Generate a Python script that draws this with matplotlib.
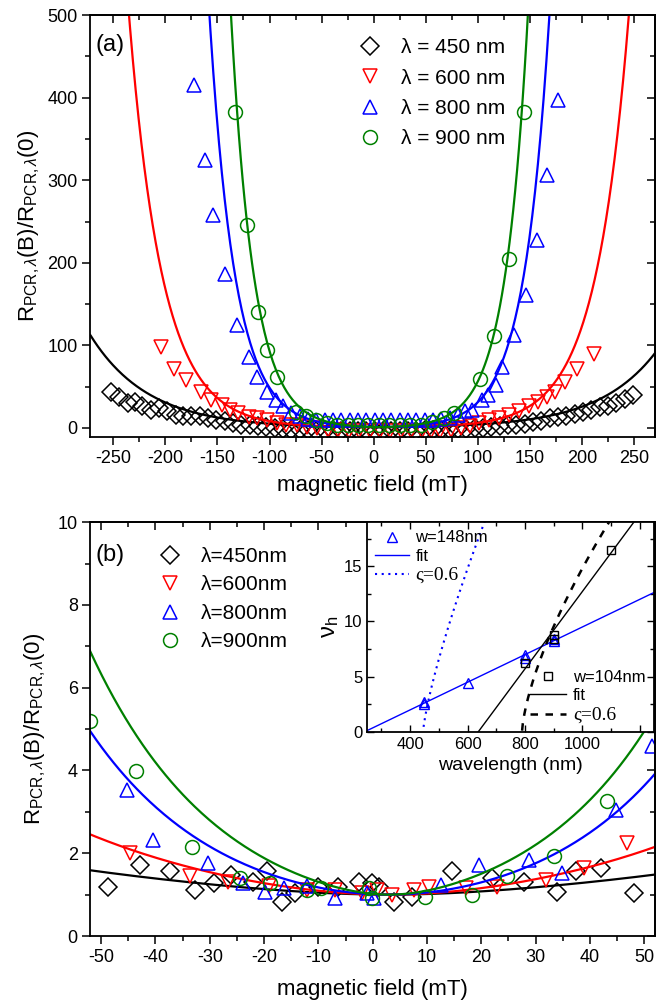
import numpy as np
import matplotlib
matplotlib.use('Agg')
import matplotlib.pyplot as plt
from matplotlib.ticker import MultipleLocator, FixedLocator, FixedFormatter
from matplotlib.lines import Line2D

plt.rcParams['font.family'] = ['Liberation Sans', 'DejaVu Sans']
plt.rcParams['mathtext.fontset'] = 'custom'
plt.rcParams['mathtext.rm'] = 'Liberation Sans'
plt.rcParams['mathtext.it'] = 'Liberation Sans:italic'
plt.rcParams['mathtext.bf'] = 'Liberation Sans:bold'
plt.rcParams['axes.linewidth'] = 1.3
plt.rcParams['axes.unicode_minus'] = False

wl_labels_a = ['λ = 450 nm', 'λ = 600 nm', 'λ = 800 nm', 'λ = 900 nm']
wl_labels_b = ['λ=450nm', 'λ=600nm', 'λ=800nm', 'λ=900nm']
colors = ['black', 'red', 'blue', 'green']
markers = ['D', 'v', '^', 'o']

# panel (a) data
bk_a_B = [-252, -244, -236, -229, -222, -214, -206, -198, -190, -183, -175, -167, -159, -151, -143, -135,
          -127, -119, -111, -103, -95, -87, -79, -71, -63, -55, -47, -39, -31, -23, -15, -7, 1, 9, 17, 25,
          33, 41, 49, 57, 65, 73, 81, 89, 97, 105, 113, 121, 129, 137, 145, 153, 161, 169, 177, 185, 193,
          201, 209, 217, 225, 233, 241, 249]
bk_a_R = [44, 38, 30, 31, 27, 22, 24, 20, 16, 14, 14, 15, 12, 10, 8, 6,
          4, 3, 2, 1, 0, -1, -2, -3, -3, -4, -4, -4, -4, -4, -4, -4, -4, -4, -4, -4,
          -4, -4, -3, -3, -2, -2, -1, -1, 0, 0, 1, 2, 3, 4, 5, 7, 9, 12, 13, 15, 17,
          19, 22, 25, 26, 30, 35, 40]
rd_a_B = [-204, -192, -180, -166, -156, -146, -138, -130, -120, -112, -102, -93, -84, -74, -64, -54, -44,
          -34, -24, -14, -4, 6, 16, 26, 36, 46, 55, 64, 74, 84, 92, 101, 111, 120, 130, 139, 149, 158,
          166, 174, 184, 195, 211]
rd_a_R = [98, 72, 58, 44, 34, 28, 22, 18, 13, 12, 10, 6, 4, 3, 1, 0, -2,
          -3, -4, -4, -4, -4, -4, -4, -4, -4, -4, -4, -2, 0, 2, 6, 10, 12, 16, 20, 26, 32,
          38, 44, 56, 72, 90]
bl_a_B = [-172, -162, -154, -143, -131, -120, -112, -102, -94, -87, -79, -71, -63, -55, -47, -39, -31,
          -23, -15, -7, 1, 9, 17, 25, 33, 41, 49, 57, 65, 73, 81, 88, 94, 104, 110, 117, 123, 135, 146,
          157, 166, 177]
bl_a_R = [415, 325, 258, 187, 125, 86, 62, 44, 34, 26, 18, 14, 11, 10, 10, 10, 10,
          10, 10, 10, 10, 10, 10, 10, 10, 10, 10, 10, 11, 12, 16, 20, 22, 34, 40, 52, 74, 113, 161,
          228, 306, 397]
gr_a_B = [-133, -122, -111, -102, -93, -75, -65, -55, -45, -35, -25, -15, -5, 5, 15, 25, 35, 45, 56, 67,
          77, 102, 115, 130, 144]
gr_a_R = [383, 246, 141, 94, 62, 19, 15, 10, 6, 4, 3.5, 3.5, 3.5, 3.5, 3.5, 3.5, 3.5, 4, 7, 12,
          18, 59, 111, 205, 383]

# fit parameters (a): R = exp(k*(sqrt((B-c)^2 + B0^2) - B0))
fit_a = [(0.018, 15, 5), (0.032, 51, 5), (0.0405, 10, 5.5), (0.0455, 6, 5.5)]

# panel (b) data
bk_b_B = [-48.7, -42.9, -37.3, -32.7, -29.3, -26, -22, -19.5, -16.7, -14.3, -10, -6.3, -2.6, -0.1, 1.1,
          3.9, 7.3, 14.6, 22, 27.9, 34, 37.4, 42, 48.2]
bk_b_R = [1.19, 1.72, 1.56, 1.11, 1.28, 1.48, 1.31, 1.56, 0.83, 1.03, 1.19, 1.19, 1.31, 1.28, 1.19,
          0.83, 0.95, 1.56, 1.4, 1.31, 1.07, 1.56, 1.64, 1.03]
rd_b_B = [-44.7, -33.6, -26.6, -19, -12, -7, -2, 0.8, 3.6, 7.6, 10.3, 17.1, 22.9, 31.9, 38.9, 46.9]
rd_b_R = [2.0, 1.44, 1.31, 1.2, 1.1, 1.12, 1.05, 1.1, 0.99, 1.11, 1.19, 1.15, 1.19, 1.36, 1.64, 2.24]
bl_b_B = [-45.3, -40.4, -30.3, -23.8, -19.8, -16.4, -12, -6.9, -1.1, 0.2, 12.5, 19.6, 28.8, 34.9, 44.8, 51.5]
bl_b_R = [3.53, 2.32, 1.76, 1.28, 1.07, 1.15, 1.2, 0.91, 1.03, 0.91, 1.23, 1.72, 1.84, 1.52, 3.05, 4.58]
gr_b_B = [-52, -43.5, -33.3, -24.4, -18.9, -12.1, -9.5, -0.7, -0.1, 9.7, 18.3, 24.8, 33.4, 43.2]
gr_b_R = [5.2, 3.98, 2.16, 1.40, 1.28, 1.11, 1.15, 1.15, 0.91, 0.95, 0.99, 1.45, 1.94, 3.25]

fit_b = [(0.012, 20, 3), (0.0233, 20, 3), (0.0415, 20, 3), (0.042, 10, 3)]

# inset data
tri_wl = [450, 450, 600, 800, 800, 900, 900]
tri_nu = [2.7, 2.55, 4.4, 7.0, 6.7, 8.2, 8.45]
sq_wl = [800, 900, 900, 1100]
sq_nu = [6.2, 8.8, 8.4, 16.5]
inset_xticks = [400, 600, 800, 1000, 1200]
inset_xticklabels = ['400', '600', '800', '1000', '']
blue_fit = (0.0125, 240)     # slope, zero crossing
black_fit = (0.035, 637)
blue_pow = (0.289, 445, 0.78)  # amplitude, onset, exponent
black_pow = (0.39, 790, 0.68)


def rfit(B, k, B0, c):
    return np.exp(k * (np.sqrt((B - c) ** 2 + B0 ** 2) - B0))


def style_axes(ax, xmaj, xmin, ymaj, ymin):
    ax.xaxis.set_major_locator(MultipleLocator(xmaj))
    ax.xaxis.set_minor_locator(MultipleLocator(xmin))
    ax.yaxis.set_major_locator(MultipleLocator(ymaj))
    ax.yaxis.set_minor_locator(MultipleLocator(ymin))
    ax.tick_params(which='major', direction='out', length=5.5, width=1.1, labelsize=13)
    ax.tick_params(which='minor', direction='out', length=3.5, width=1.1)
    top = ax.secondary_xaxis('top')
    top.xaxis.set_major_locator(MultipleLocator(xmaj))
    top.xaxis.set_minor_locator(MultipleLocator(xmin))
    top.tick_params(which='both', direction='in', labeltop=False, width=1.1)
    top.tick_params(which='major', length=5.5)
    top.tick_params(which='minor', length=3.5)
    right = ax.secondary_yaxis('right')
    right.yaxis.set_major_locator(MultipleLocator(ymaj))
    right.yaxis.set_minor_locator(MultipleLocator(ymin))
    right.tick_params(which='both', direction='in', labelright=False, width=1.1)
    right.tick_params(which='major', length=5.5)
    right.tick_params(which='minor', length=3.5)


ylab = r'R$_{\mathrm{PCR,}\lambda}$(B)/R$_{\mathrm{PCR,}\lambda}$(0)'

fig = plt.figure(figsize=(6.59, 10.07), dpi=100)
ax1 = fig.add_axes([0.137, 0.566, 0.857, 0.419])
ax2 = fig.add_axes([0.137, 0.0705, 0.857, 0.411])
ins = fig.add_axes([0.557, 0.2731, 0.4355, 0.2085])

# ---- (a)
data_a = [(bk_a_B, bk_a_R), (rd_a_B, rd_a_R), (bl_a_B, bl_a_R), (gr_a_B, gr_a_R)]
Ba = np.linspace(-272, 272, 600)
for (B, R), col, mk, lab, p in zip(data_a, colors, markers, wl_labels_a, fit_a):
    ms = 9 if mk == 'D' else 10
    ax1.plot(B, R, linestyle='none', marker=mk, ms=ms, mfc='none', mec=col, mew=1.1, label=lab)
    ax1.plot(Ba, rfit(Ba, *p), color=col, lw=1.6)
ax1.set_xlim(-272, 270)
ax1.set_ylim(-11, 500)
style_axes(ax1, 50, 25, 100, 50)
ax1.set_xlabel('magnetic field (mT)', fontsize=16, labelpad=6)
ax1.set_ylabel(ylab, fontsize=16, labelpad=4)
ax1.text(0.01, 0.915, '(a)', transform=ax1.transAxes, fontsize=17)
ax1.legend(loc='upper left', bbox_to_anchor=(0.44, 0.99), frameon=False, fontsize=15,
           handletextpad=0.9, labelspacing=0.55, handlelength=1.2)

# ---- (b)
data_b = [(bk_b_B, bk_b_R), (rd_b_B, rd_b_R), (bl_b_B, bl_b_R), (gr_b_B, gr_b_R)]
Bb = np.linspace(-53, 53, 400)
for (B, R), col, mk, lab, p in zip(data_b, colors, markers, wl_labels_b, fit_b):
    ms = 9 if mk == 'D' else 10
    ax2.plot(Bb, rfit(Bb, *p), color=col, lw=1.6)
    ax2.plot(B, R, linestyle='none', marker=mk, ms=ms, mfc='none', mec=col, mew=1.1, label=lab)
ax2.set_xlim(-52, 52)
ax2.set_ylim(0, 10)
style_axes(ax2, 10, 5, 2, 1)
ax2.set_xlabel('magnetic field (mT)', fontsize=16, labelpad=10)
ax2.set_ylabel(ylab, fontsize=16, labelpad=7)
ax2.text(0.01, 0.905, '(b)', transform=ax2.transAxes, fontsize=17)
ax2.legend(loc='upper left', bbox_to_anchor=(0.085, 0.985), frameon=False, fontsize=15,
           handletextpad=0.9, labelspacing=0.45, handlelength=1.2)

# ---- inset
wl = np.linspace(230, 1260, 400)
ins.plot(tri_wl, tri_nu, linestyle='none', marker='^', ms=7, mfc='none', mec='blue', mew=1.0)
ins.plot(wl, blue_fit[0] * (wl - blue_fit[1]), color='blue', lw=1.0)
wlb = wl[wl > blue_pow[1]]
ins.plot(wlb, blue_pow[0] * (wlb - blue_pow[1]) ** blue_pow[2], color='blue', lw=1.5, linestyle=(0, (1, 2.2)))
ins.plot(sq_wl, sq_nu, linestyle='none', marker='s', ms=6, mfc='none', mec='black', mew=1.0)
ins.plot(wl, black_fit[0] * (wl - black_fit[1]), color='black', lw=1.0)
wlk = wl[wl > black_pow[1]]
ins.plot(wlk, black_pow[0] * (wlk - black_pow[1]) ** black_pow[2], color='black', lw=1.8, linestyle=(0, (3, 3)))
ins.set_xlim(250, 1250)
ins.set_ylim(0, 19)
ins.xaxis.set_major_locator(FixedLocator(inset_xticks))
ins.xaxis.set_major_formatter(FixedFormatter(inset_xticklabels))
ins.xaxis.set_minor_locator(MultipleLocator(100))
ins.yaxis.set_major_locator(MultipleLocator(5))
ins.yaxis.set_minor_locator(MultipleLocator(2.5))
ins.tick_params(which='both', direction='in', top=True, right=True, labelsize=12, width=1.0)
ins.tick_params(which='major', length=5)
ins.tick_params(which='minor', length=3)
ins.set_xlabel('wavelength (nm)', fontsize=14, labelpad=4)
ins.set_ylabel('ν$_{\\mathrm{h}}$', fontsize=17, labelpad=2)

h_top = [Line2D([], [], linestyle='none', marker='^', ms=7, mfc='none', mec='blue'),
         Line2D([], [], color='blue', lw=1.0),
         Line2D([], [], color='blue', lw=1.5, linestyle=(0, (1, 2.2)))]
leg1 = ins.legend(h_top, ['w=148nm', 'fit', 'ς=0.6'], loc='upper left', frameon=False, fontsize=12,
                  handlelength=2.0, labelspacing=0.2, borderaxespad=0.1, handletextpad=0.4)
leg1.get_texts()[2].set_fontfamily('Liberation Serif')
leg1.get_texts()[2].set_fontsize(14)
ins.add_artist(leg1)
h_bot = [Line2D([], [], linestyle='none', marker='s', ms=6, mfc='none', mec='black'),
         Line2D([], [], color='black', lw=1.0),
         Line2D([], [], color='black', lw=1.8, linestyle=(0, (3, 3)))]
leg2 = ins.legend(h_bot, ['w=104nm', 'fit', 'ς=0.6'], loc='lower right', frameon=False, fontsize=12,
                  handlelength=2.2, labelspacing=0.2, borderaxespad=0.1, handletextpad=0.4)
leg2.get_texts()[2].set_fontfamily('Liberation Serif')
leg2.get_texts()[2].set_fontsize(14)

fig.savefig('out.png', dpi=100)
